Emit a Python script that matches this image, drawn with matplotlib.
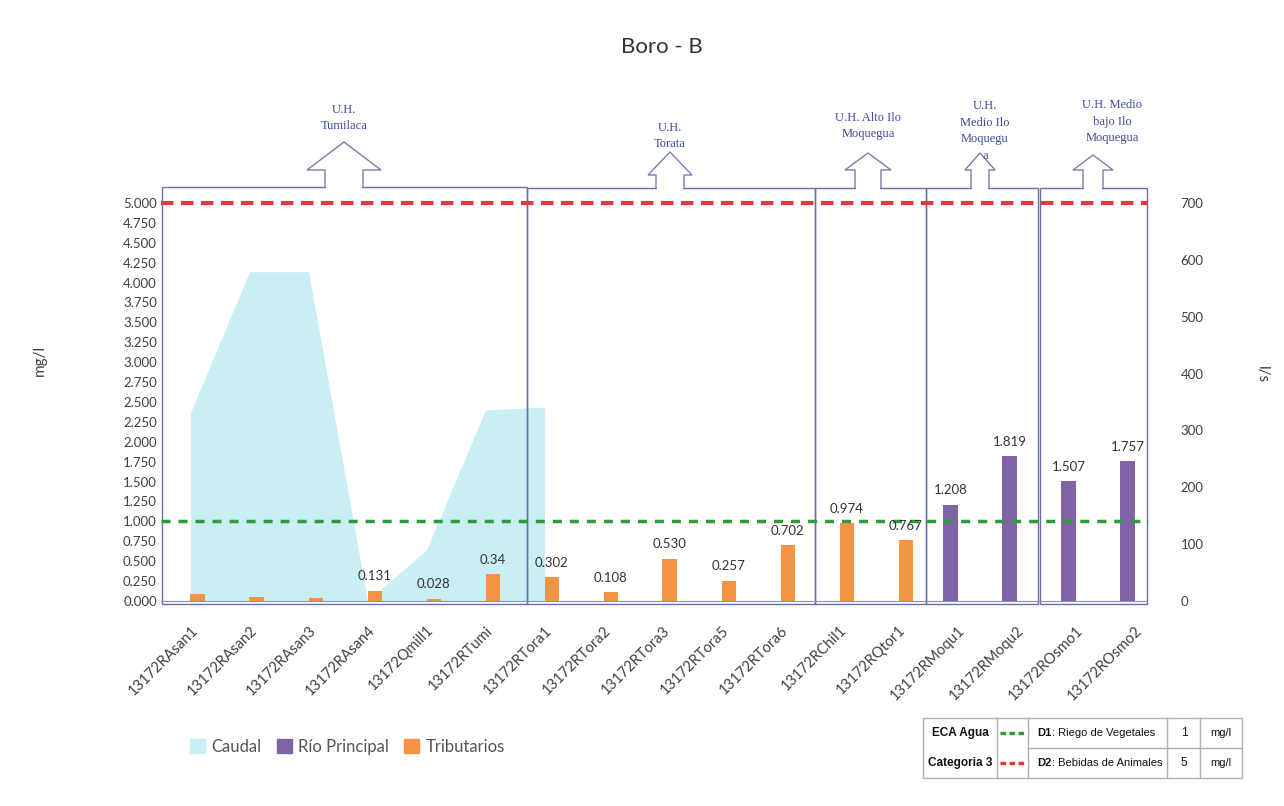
import numpy as np
import matplotlib
matplotlib.use('Agg')
import matplotlib.pyplot as plt
from matplotlib.patches import Patch, Polygon, Rectangle
from matplotlib.lines import Line2D

# ====== data ======
categories = ['13172RAsan1', '13172RAsan2', '13172RAsan3', '13172RAsan4', '13172Qmill1',
              '13172RTumi', '13172RTora1', '13172RTora2', '13172RTora3', '13172RTora5',
              '13172RTora6', '13172RChil1', '13172RQtor1', '13172RMoqu1', '13172RMoqu2',
              '13172ROsmo1', '13172ROsmo2']

# Tributarios (mg/l)
trib_vals = [0.085, 0.045, 0.035, 0.131, 0.028, 0.34, 0.302, 0.108, 0.530, 0.257,
             0.702, 0.974, 0.767, np.nan, np.nan, np.nan, np.nan]
trib_labels = ['', '', '', '0.131', '0.028', '0.34', '0.302', '0.108', '0.530', '0.257',
               '0.702', '0.974', '0.767', '', '', '', '']

# Rio Principal (mg/l)
rio_vals = [np.nan] * 13 + [1.208, 1.819, 1.507, 1.757]
rio_labels = [''] * 13 + ['1.208', '1.819', '1.507', '1.757']

# Caudal (l/s)
caudal = [331, 579, 579, 0, 90, 336, 341] + [np.nan] * 10

# ECA Agua Categoria 3
eca_group = ['ECA Agua', 'Categoria 3']
eca_codes = ['D1', 'D2']
eca_names = ['Riego de Vegetales', 'Bebidas de Animales']
eca_values = [1, 5]
eca_units = ['mg/l', 'mg/l']
eca_colors = ['#2f9a3c', '#e8363d']

# unidades hidrograficas
uh_names = ['U.H.\nTumilaca', 'U.H.\nTorata', 'U.H. Alto Ilo\nMoquegua',
            'U.H.\nMedio Ilo\nMoquegu\na', 'U.H. Medio\nbajo Ilo\nMoquegua']

# ====== colors ======
c_area = '#c9eef3'
c_rio = '#8063a6'
c_trib = '#f59445'
c_box = '#6a6fa8'
c_uh = '#3d4b9c'

W, H = 1284, 806
fig = plt.figure(figsize=(W / 100, H / 100), dpi=100)

ax = fig.add_axes([161 / W, 1 - 601 / H, 1003 / W, 414 / H])
ax2 = ax.twinx()
ax.set_zorder(ax2.get_zorder() + 1)
ax.patch.set_visible(False)

x = np.arange(len(categories))

# caudal area on right axis
ax2.fill_between(x, caudal, 0, color=c_area, lw=0)
ax2.set_ylim(0, 728)
ax2.set_yticks(np.arange(0, 701, 100))
ax2.tick_params(axis='y', length=0, pad=12, labelsize=9.5, labelcolor='#404040')
for s in ax2.spines.values():
    s.set_visible(False)

bw = 0.24
b1 = ax.bar(x - bw / 2, rio_vals, bw, color=c_rio)
b2 = ax.bar(x + bw / 2, trib_vals, bw, color=c_trib)
for rects, labs in ((b1, rio_labels), (b2, trib_labels)):
    for r, lab in zip(rects, labs):
        if lab:
            ax.annotate(lab, (r.get_x() + r.get_width() / 2, r.get_height()),
                        xytext=(0, 6), textcoords='offset points', ha='center',
                        va='bottom', fontsize=9.5, color='#333333', family='Lato')

# ECA lines
l1 = ax.axhline(eca_values[0], xmax=0.984, color=eca_colors[0], lw=2.5)
l1.set_dashes((2.6, 2.3))
l2 = ax.axhline(eca_values[1], xmax=0.984, color=eca_colors[1], lw=3)
l2.set_dashes((3.0, 1.8))

ax.set_xlim(-0.5, len(categories) - 0.5)
ax.set_ylim(0, 5.2)
ax.set_yticks(np.arange(0, 5.001, 0.25))
ax.set_yticklabels(['%.3f' % v for v in np.arange(0, 5.001, 0.25)])
ax.tick_params(axis='y', length=0, pad=3, labelsize=9.5, labelcolor='#404040')
ax.set_xticks(x)
ax.set_xticklabels(categories, rotation=45, ha='right', rotation_mode='anchor',
                   fontsize=10.5, color='#404040', family='Lato')
ax.tick_params(axis='x', length=0, pad=16)
for lab in ax.get_yticklabels() + ax2.get_yticklabels():
    lab.set_family('Lato')
for k in ['left', 'right', 'top']:
    ax.spines[k].set_visible(False)
ax.spines['bottom'].set_color('#8a90b5')
ax.spines['bottom'].set_bounds(-0.5, 16.22)

# ====== overlay in pixel coords ======
ov = fig.add_axes([0, 0, 1, 1])
ov.set_xlim(0, W)
ov.set_ylim(H, 0)
ov.axis('off')
ov.patch.set_alpha(0)

boxes = [(162, 527, 187), (527, 815, 188), (815, 926, 188), (926, 1038, 188), (1040, 1147, 188)]
for x0, x1, top in boxes:
    ov.add_patch(Rectangle((x0, top), x1 - x0, 604 - top, fill=False, ec=c_box, lw=1))

arrows = [(344, 142, 170, 37, 19), (670, 152, 175, 22, 14), (868, 153, 170, 23, 13),
          (980, 153, 170, 15, 9), (1093, 155, 170, 20, 10)]
for (cx, tip, base, hw, sw), (x0, x1, top) in zip(arrows, boxes):
    pts = [(cx - sw, top), (cx - sw, base), (cx - hw, base), (cx, tip),
           (cx + hw, base), (cx + sw, base), (cx + sw, top)]
    ov.add_patch(Polygon(pts, closed=False, fc='white', ec='#7a7fa8', lw=1, zorder=3))
    ov.add_patch(Rectangle((cx - sw + 0.8, top - 2), 2 * sw - 1.6, 4, fc='white', ec='none', zorder=3))

uh_pos = [(344, 118), (670, 136), (868, 126), (985, 131), (1112, 122)]
for name, (tx, ty) in zip(uh_names, uh_pos):
    ov.text(tx, ty, name, ha='center', va='center', fontsize=9, color=c_uh,
            family='Liberation Serif', linespacing=1.5, zorder=4)

# titles / axis labels
fig.text(662 / W, 1 - 47 / H, 'Boro - B', ha='center', va='center', fontsize=16,
         color='#333333', family='Lato')
fig.text(40 / W, 1 - 360 / H, 'mg/l', rotation=90, ha='center', va='center',
         fontsize=11, color='#404040', family='Lato')
fig.text(1262 / W, 1 - 375 / H, 'l/s', rotation=270, ha='center', va='center',
         fontsize=11, color='#404040', family='Lato')

# legend
handles = [Patch(color=c_area), Patch(color=c_rio), Patch(color=c_trib)]
fig.legend(handles, ['Caudal', 'Río Principal', 'Tributarios'], loc='center left',
           bbox_to_anchor=(190 / W, 1 - 747 / H), ncol=3, frameon=False,
           handlelength=0.9, handleheight=0.9, handletextpad=0.4, columnspacing=0.9,
           borderaxespad=0, borderpad=0, prop={'family': 'Lato', 'size': 12},
           labelcolor='#555555')

# ECA table
tc = '#b0b0b0'
ov.add_patch(Rectangle((923, 718), 1242 - 923, 778 - 718, fill=False, ec=tc, lw=1))
for vx in [997, 1028, 1167, 1200]:
    ov.plot([vx, vx], [718, 778], color=tc, lw=1)
ov.plot([1028, 1242], [748, 748], color=tc, lw=1)
rows_y = [733, 763]
for i, ry in enumerate(rows_y):
    ov.text(960, ry, eca_group[i], ha='center', va='center', fontsize=8.5,
            fontweight='bold', family='Liberation Sans', color='#111111')
    ln = Line2D([1000, 1026], [ry, ry], color=eca_colors[i], lw=2.5)
    ln.set_dashes((1.6, 1.0))
    ov.add_line(ln)
    ov.text(1052, ry, eca_codes[i], ha='right', va='center', fontsize=8,
            fontweight='bold', family='Liberation Sans', color='#111111')
    ov.text(1052, ry, ': ' + eca_names[i], ha='left', va='center', fontsize=8,
            family='Liberation Sans', color='#111111')
    ov.text(1184, ry, str(eca_values[i]), ha='center', va='center', fontsize=8.5,
            family='Liberation Sans', color='#111111')
    ov.text(1221, ry, eca_units[i], ha='center', va='center', fontsize=8,
            family='Liberation Sans', color='#111111')

fig.savefig('out.png', dpi=100)
